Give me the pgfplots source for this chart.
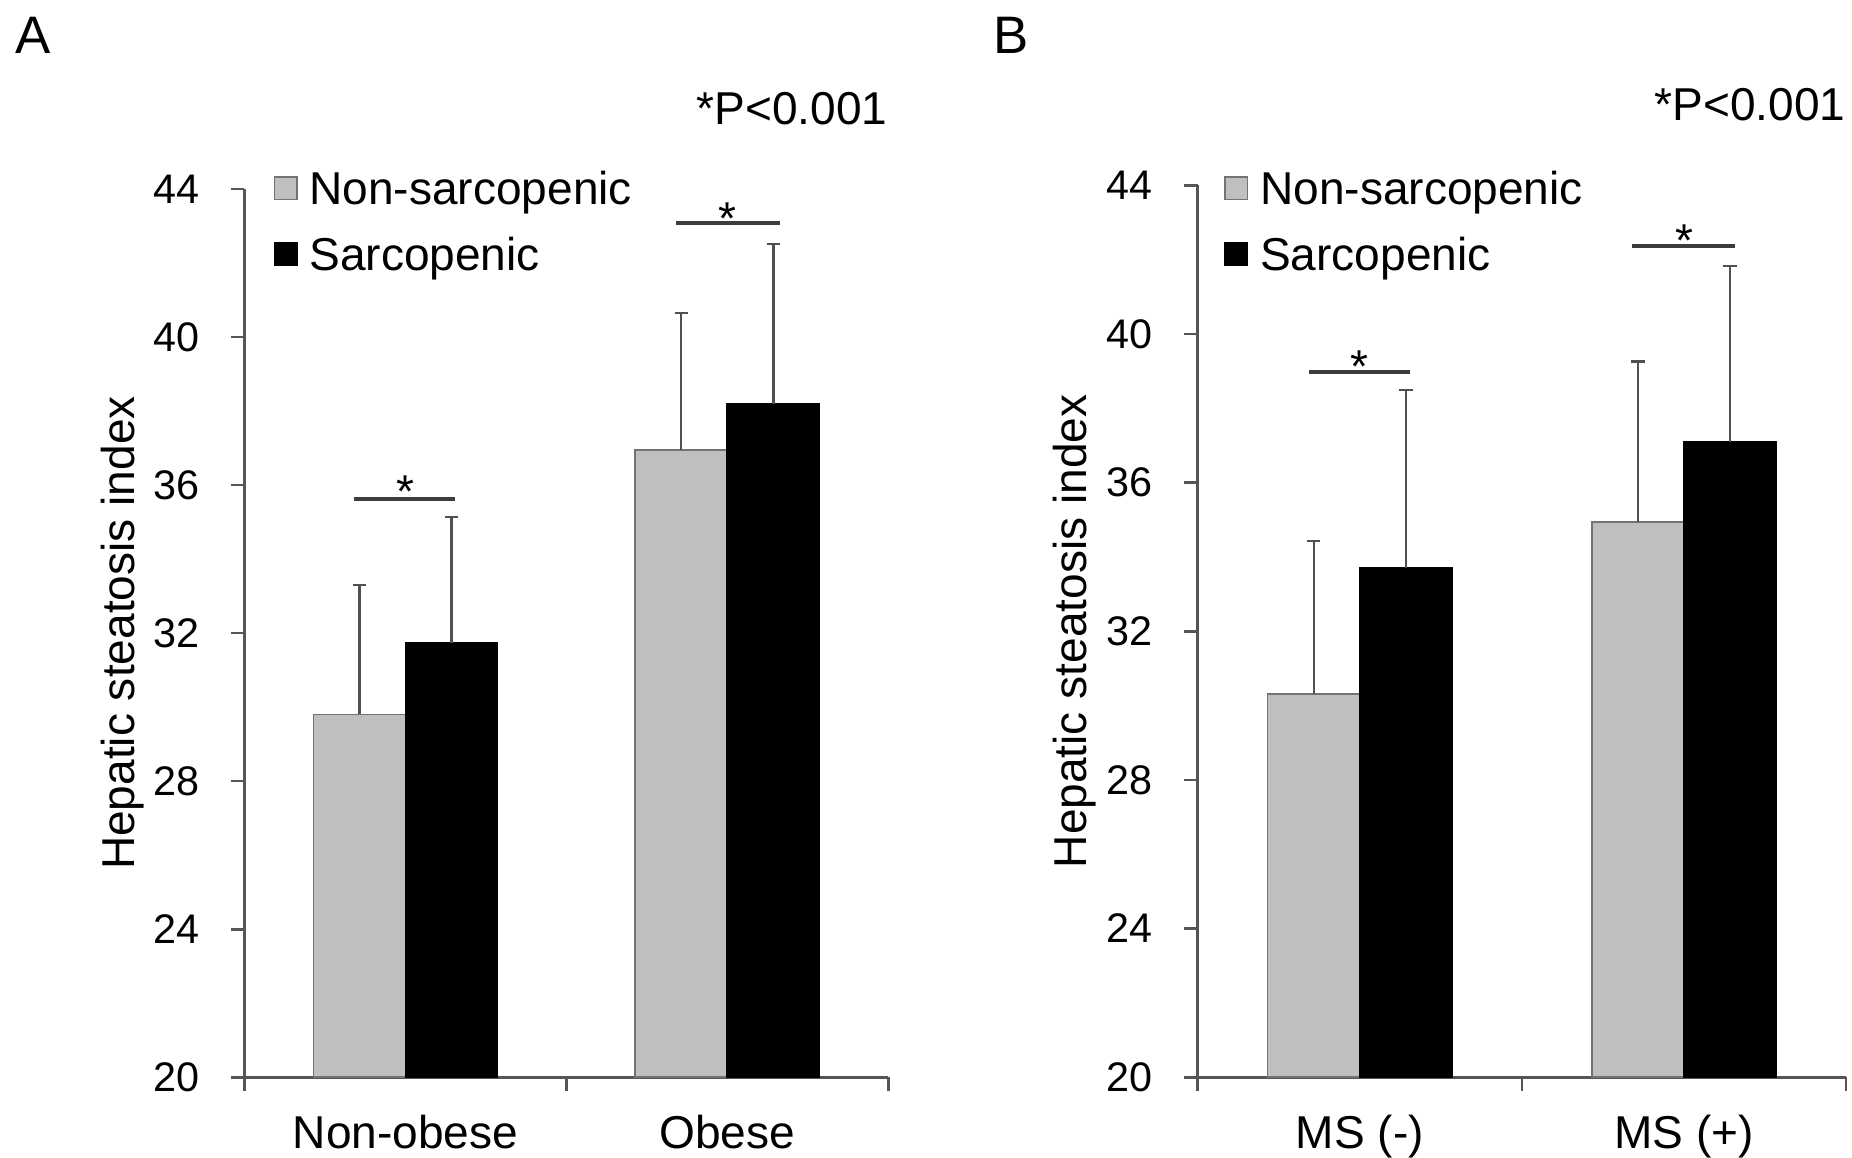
\documentclass[border=0pt]{standalone}
\usepackage{pgfplots}
\pgfplotsset{compat=1.18}
\usepackage{fontspec}
\setmainfont{Liberation Sans}
\definecolor{barGray}{RGB}{191,191,191}
\definecolor{axGray}{RGB}{85,85,85}
\definecolor{errGray}{RGB}{80,80,80}
\definecolor{sigGray}{RGB}{60,60,60}
\newcommand{\ticksize}{\fontsize{10.5}{12.6}\selectfont}
\newcommand{\labsize}{\fontsize{11.7}{14}\selectfont}
\newcommand{\panelsize}{\fontsize{13.4}{16}\selectfont}

\pgfplotsset{
  hsi/.style={
    scale only axis,
    xmin=-0.5, xmax=1.5, ymin=20, ymax=44,
    axis x line=bottom, axis y line=left,
    axis line style={-, draw=axGray, line width=0.7pt},
    tick align=outside,
    tick style={draw=axGray, line width=0.7pt},
    major tick length=3.4pt,
    ytick={20,24,28,32,36,40,44},
    xtick={-0.5,0.5,1.5}, xticklabels={},
    extra x ticks={0,1},
    extra x tick style={tick style={draw=none}},
    /pgf/number format/assume math mode=true,
    yticklabel style={font=\ticksize, inner sep=0pt, xshift=-7.8pt},
    xticklabel style={font=\labsize, inner sep=0pt, yshift=-6pt},
    ylabel={Hepatic steatosis index},
    ylabel style={font=\labsize, at={(axis description cs:-0.19,0.5)}, anchor=center},
    ybar=0pt, bar width=23.4pt,
    clip=false,
    legend style={draw=none, fill=none, font=\labsize, anchor=north west,
      inner sep=0pt, /tikz/row sep=6.8pt, /tikz/column sep=3pt, nodes={inner sep=0pt}},
    legend cell align=left,
    legend image code/.code={\draw[#1] (0pt,-2.25pt) rectangle (5.7pt,3.45pt);},
  },
  nonsarc/.style={fill=barGray, draw=black!55, line width=0.4pt,
    error bars/.cd, y dir=plus, y explicit,
    error bar style={draw=errGray, line width=0.6pt},
    error mark options={draw=errGray, rotate=90, mark size=1.7pt, line width=0.6pt}},
  sarc/.style={fill=black, draw=black, line width=0.4pt,
    error bars/.cd, y dir=plus, y explicit,
    error bar style={draw=errGray, line width=0.6pt},
    error mark options={draw=errGray, rotate=90, mark size=1.7pt, line width=0.6pt}},
}

\begin{document}
\begin{tikzpicture}
\useasboundingbox (-62.1pt,-20.4pt) rectangle (408.3pt,273.6pt);

% ---------------- Panel A ----------------
\begin{axis}[hsi, at={(0pt,0pt)}, anchor=south west,
  width=163.5pt, height=225.6pt,
  extra x tick labels={Non-obese,Obese},
  legend style={at={(axis description cs:0.044,1.021)}}]
\addplot[nonsarc] table[x=x, y=y, y error=e] {
x y e
0 29.80 3.50
1 36.95 3.70
};
\addlegendentry{Non-sarcopenic}
\addplot[sarc] table[x=x, y=y, y error=e] {
x y e
0 31.73 3.40
1 38.19 4.32
};
\addlegendentry{Sarcopenic}
\draw[sigGray, line width=1pt] (axis cs:-0.16,35.62) -- (axis cs:0.155,35.62);
\node[anchor=north, inner sep=0pt, font=\labsize] at (axis cs:0,36.26) {*};
\draw[sigGray, line width=1pt] (axis cs:0.84,43.08) -- (axis cs:1.165,43.08);
\node[anchor=north, inner sep=0pt, font=\labsize] at (axis cs:1,43.65) {*};
\node[anchor=base east, inner sep=0pt, font=\labsize] at (axis cs:1.5,45.73) {*P<0.001};
\node[anchor=base west, inner sep=0pt, font=\panelsize] at (axis description cs:-0.3566,1.153) {A};
\end{axis}

% ---------------- Panel B ----------------
\begin{axis}[hsi, at={(242.1pt,0pt)}, anchor=south west,
  width=164.7pt, height=226.5pt,
  extra x tick labels={MS (-),MS (+)},
  legend style={at={(axis description cs:0.040,1.017)}}]
\addplot[nonsarc] table[x=x, y=y, y error=e] {
x y e
0 30.31 4.12
1 34.94 4.32
};
\addlegendentry{Non-sarcopenic}
\addplot[sarc] table[x=x, y=y, y error=e] {
x y e
0 33.70 4.80
1 37.10 4.74
};
\addlegendentry{Sarcopenic}
\draw[sigGray, line width=1pt] (axis cs:-0.156,38.98) -- (axis cs:0.156,38.98);
\node[anchor=north, inner sep=0pt, font=\labsize] at (axis cs:0,39.56) {*};
\draw[sigGray, line width=1pt] (axis cs:0.841,42.37) -- (axis cs:1.158,42.37);
\node[anchor=north, inner sep=0pt, font=\labsize] at (axis cs:1,42.95) {*};
\node[anchor=base east, inner sep=0pt, font=\labsize] at (axis cs:1.5,45.75) {*P<0.001};
\node[anchor=base west, inner sep=0pt, font=\panelsize] at (axis description cs:-0.316,1.148) {B};
\end{axis}
\end{tikzpicture}
\end{document}
